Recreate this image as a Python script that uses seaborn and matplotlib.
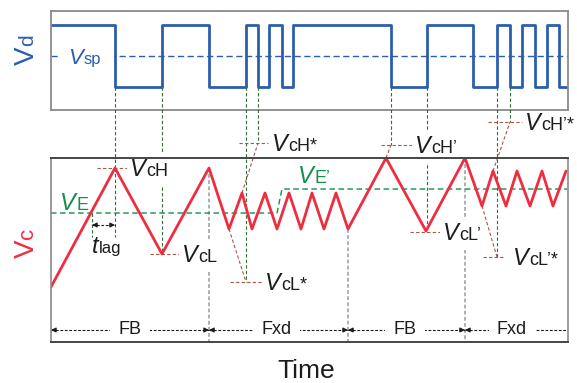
import matplotlib
matplotlib.use('Agg')
import matplotlib.pyplot as plt
from matplotlib.transforms import IdentityTransform, Bbox
from matplotlib.patches import Rectangle
import numpy as np
import pandas as pd
import seaborn as sns

# ---------------- data (time in arbitrary units) ----------------
vd_time = [0, 64, 111, 158, 195, 207, 218, 231, 242, 340, 376, 422, 446, 459, 471, 484, 496, 508, 517]
vd_level = [1, 0, 1, 0, 1, 0, 1, 0, 1, 0, 1, 0, 1, 0, 1, 0, 1, 0, 0]
vsp_level = 0.5

vc_time = [0, 64, 111, 158, 178, 191, 201, 214, 226, 238, 250, 261, 273, 285, 297,
           335, 375, 414, 431, 442, 455, 466, 479, 491, 502, 515]
vc_value = [5.5, 17.4, 8.8, 17.4, 11.3, 14.9, 11.3, 14.9, 11.3, 14.9, 11.3, 14.9, 11.3, 14.9, 11.3,
            18.4, 11.1, 18.4, 13.6, 17.1, 13.6, 17.1, 13.6, 17.1, 13.6, 17.1]

ve_time = [0, 226, 231, 516]
ve_value = [12.9, 12.9, 15.3, 15.3]

mode_names = ['FB', 'Fxd', 'FB', 'Fxd']
mode_bounds = [0, 158, 297, 414, 516]

extreme_labels = ['cH', 'cL', 'cL*', 'cH*', 'cH\u2019', 'cL\u2019', 'cL\u2019*', 'cH\u2019*']
extreme_time = [64, 111, 195, 207, 340, 376, 446, 459]
extreme_value = [17.4, 8.8, 6.0, 19.9, 19.7, 11.0, 8.5, 22.0]
virtual_from_time = {2: 178, 3: 191, 4: 335, 6: 431, 7: 442}

tlag_start, tlag_end, tlag_level, tlag_bottom = 41, 64, 11.7, 10.5

# ---------------- styling ----------------
sns.set_theme(style='white')
plt.rcParams['font.family'] = ['Liberation Sans', 'DejaVu Sans']

BLUE = '#2b5eae'
RED = '#ee2e40'
GREEN = '#12904a'
DKGREEN = '#2f6e35'
BROWN = '#a6584a'
GREY = '#9b9b9b'
INK = '#1c1c1c'

W, H = 577, 383
fig = plt.figure(figsize=(W / 100, H / 100), dpi=100)
fig.patch.set_facecolor('white')
L, R = 51, 567.5
ax_d = fig.add_axes([L / W, 1 - 110 / H, (R - L) / W, 99 / H])
ax_c = fig.add_axes([L / W, 1 - 342 / H, (R - L) / W, 184 / H])

ax_d.set_xlim(0, 516.5)
ax_d.set_ylim(-0.371, 1.226)
ax_c.set_xlim(0, 516.5)
ax_c.set_ylim(0, 18.4)

for ax in (ax_d, ax_c):
    ax.set_xticks([])
    ax.set_yticks([])
    ax.set_facecolor('white')
for s in ax_d.spines.values():
    s.set_color('#8a8a8a'); s.set_linewidth(1.3); s.set_zorder(5)
for name, s in ax_c.spines.items():
    s.set_zorder(5)
    if name in ('top', 'bottom'):
        s.set_color('#454545'); s.set_linewidth(1.4)
    else:
        s.set_color('#8a8a8a'); s.set_linewidth(1.2)

# ---------------- Vd panel ----------------
vd_df = pd.DataFrame({'time': vd_time, 'Vd': vd_level})
sns.lineplot(data=vd_df, x='time', y='Vd', ax=ax_d, color=BLUE, linewidth=2.0,
             drawstyle='steps-post', estimator=None, sort=False, zorder=4)
ax_d.axhline(vsp_level, color=BLUE, lw=1.0, ls=(0, (4.5, 2.5)), zorder=2)
ax_d.set_xlabel(''); ax_d.set_ylabel('')

# ---------------- Vc panel ----------------
vc_df = pd.DataFrame({'time': vc_time, 'Vc': vc_value})
sns.lineplot(data=vc_df, x='time', y='Vc', ax=ax_c, color=RED, linewidth=2.0,
             estimator=None, sort=False, zorder=4)
ax_c.set_xlabel(''); ax_c.set_ylabel('')
ax_c.plot(ve_time, ve_value, color=GREEN, lw=1.0, ls=(0, (4, 2.5)), zorder=2)

# mode boundaries
for b in mode_bounds[1:-1]:
    v0 = np.interp(b, vc_time, vc_value)
    ax_c.plot([b, b], [v0, 0], color=GREY, lw=1.1, ls=(0, (2.5, 1.5)), zorder=1.5)

# switching lines from Vd low level down to Vc extremes
fig.canvas.draw()
renderer = fig.canvas.get_renderer()
low_disp = ax_d.transData.transform((0, 0))[1]
top_v = ax_c.transData.inverted().transform((0, low_disp))[1]
for t, v in zip(extreme_time, extreme_value):
    ax_c.plot([t, t], [top_v, v], color=DKGREEN, lw=0.8, ls=(0, (3, 2)), clip_on=False, zorder=1.5)

# tlag marker
ax_c.plot([tlag_end, tlag_end], [extreme_value[0], tlag_bottom], color=DKGREEN, lw=0.8, ls=(0, (3, 2)), zorder=1.5)
ax_c.plot([tlag_start, tlag_start], [ve_value[0], tlag_bottom], color=DKGREEN, lw=0.8, ls=(0, (3, 2)), zorder=1.5)
ax_c.plot([tlag_start, tlag_end], [tlag_level, tlag_level], color=INK, lw=0.8, ls=(0, (2.5, 1.5)), zorder=2)


def head(ax, tip, y, direction, color=INK, length=5):
    ax.annotate('', xy=(tip, y), xytext=(tip - direction * length, y),
                arrowprops=dict(arrowstyle='-|>', color=color, lw=0.8, mutation_scale=7,
                                shrinkA=0, shrinkB=0), annotation_clip=False, zorder=3)


head(ax_c, tlag_start, tlag_level, -1)
head(ax_c, tlag_end, tlag_level, +1)

# brown level marks and virtual extrapolations
spans = [(-18, 13), (-12, 18), (-16, 16), (-19, 10), (-10, 21), (-17, 13), (-14, 7), (-22, 12)]
gaps = [2, 2, 3, 4, 3, 3, 9, 3]
with_bg = [True, True, False, False, True, True, False, False]
for i, (t, v) in enumerate(zip(extreme_time, extreme_value)):
    a, b = spans[i]
    ax_c.plot([t + a, t + b], [v, v], color=BROWN, lw=0.8, ls=(0, (3, 2)), clip_on=False, zorder=1.6)
    if i in virtual_from_time:
        t0 = virtual_from_time[i]
        v0 = np.interp(t0, vc_time, vc_value)
        ax_c.plot([t0, t], [v0, v], color=BROWN, lw=0.8, ls=(0, (3, 2)), clip_on=False, zorder=1.6)


def compound(ax, x, y, main, sub, color, size=17, subsize=13, italic=True, pad=None):
    t1 = ax.text(x, y, main, fontsize=size, style='italic' if italic else 'normal', color=color,
                 ha='left', va='baseline', clip_on=False, zorder=3)
    ext = t1.get_window_extent(renderer)
    by = ax.transData.transform((x, y))[1]
    t2 = ax.text(ext.x1 + 0.5, by, sub, fontsize=subsize, color=color, ha='left', va='baseline',
                 transform=IdentityTransform(), clip_on=False, zorder=3)
    if pad is not None:
        e2 = t2.get_window_extent(renderer)
        u = Bbox.union([ext, e2])
        pl, pr, pv = pad
        rect = Rectangle((u.x0 - pl, u.y0 - pv), u.width + pl + pr, u.height + 2 * pv,
                         transform=IdentityTransform(), fc='white', ec='none', zorder=2.9)
        ax.add_artist(rect)
        rect.set_clip_on(False)


for i, (t, v) in enumerate(zip(extreme_time, extreme_value)):
    x = t + spans[i][1] + gaps[i]
    compound(ax_c, x, v - 0.8, 'V', extreme_labels[i], INK, pad=(3, 3, 5) if with_bg[i] else None)

compound(ax_c, 9, ve_value[0] + 0.3, 'V', 'E', GREEN)
compound(ax_c, 247, ve_value[-1] + 0.6, 'V', 'E\u2019', GREEN)
compound(ax_c, tlag_start, 8.9, 't', 'lag', INK, size=17, subsize=12)
compound(ax_d, 17, 0.37, 'V', 'sp', BLUE, size=16, subsize=12, pad=(9, 13, 2))

# rotated axis labels
def rot_label(xd, yd, main, sub, color, size, subsize):
    t1 = fig.text(xd, yd, main, rotation=90, rotation_mode='anchor', ha='left', va='baseline',
                  fontsize=size, color=color, transform=IdentityTransform())
    ext = t1.get_window_extent(renderer)
    fig.text(xd, ext.y1 + 0.5, sub, rotation=90, rotation_mode='anchor', ha='left', va='baseline',
             fontsize=subsize, color=color, transform=IdentityTransform())


rot_label(33.5, H - 65, 'V', 'd', BLUE, 20, 15)
rot_label(33.5, H - 258, 'V', 'c', RED, 20, 16)

# mode arrows
row = 1.2
for k, name in enumerate(mode_names):
    a, b = mode_bounds[k], mode_bounds[k + 1]
    ax_c.plot([a, b], [row, row], color=INK, lw=0.8, ls=(0, (2.5, 1.5)), zorder=2)
    head(ax_c, a, row, -1)
    if k < len(mode_names) - 1:
        head(ax_c, b, row, +1)
    cx = {0: 79, 1: 226, 2: 354, 3: 461}[k]
    ax_c.text(cx, row, name, fontsize=13, color=INK, ha='center', va='center', zorder=3,
              bbox=dict(boxstyle='square,pad=0.45', fc='white', ec='none'))

fig.text(306 / W, 1 - 371 / H, 'Time', ha='center', va='center', fontsize=19, color=INK)

fig.savefig('out.png', dpi=100)
